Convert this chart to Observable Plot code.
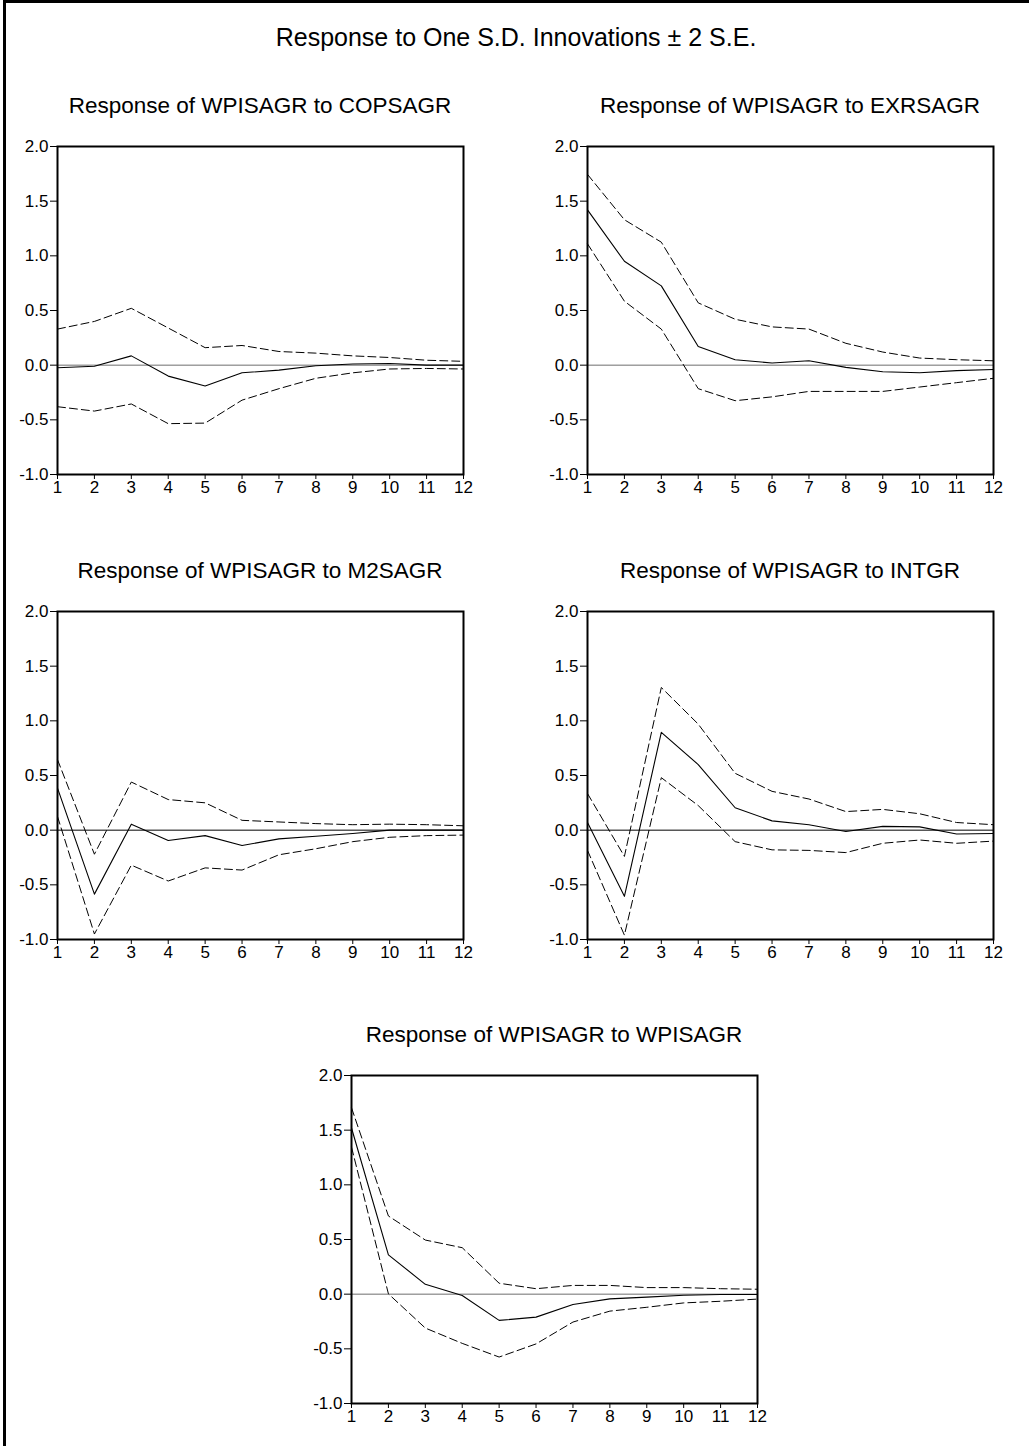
<!DOCTYPE html>
<html>
<head>
<meta charset="utf-8">
<script src="https://cdn.jsdelivr.net/npm/d3@7"></script>
<script src="https://cdn.jsdelivr.net/npm/@observablehq/plot@0.6"></script>
<style>
  html, body { margin: 0; padding: 0; background: white; }
  #page { position: relative; width: 1029px; height: 1446px; background: white; overflow: hidden;
          font-family: "Liberation Sans", Arial, sans-serif; color: black; }
  #border { position: absolute; left: 3px; top: 0; width: 1026px; height: 1446px; box-sizing: border-box;
            border-top: 3px solid black; border-left: 3px solid black; z-index: 10; pointer-events: none; }
  .title { position: absolute; white-space: nowrap; transform: translateX(-50%); line-height: 1; }
  .main { font-size: 25px; }
  .sub { font-size: 22.5px; }
  .panel { position: absolute; }
  svg text { font-family: "Liberation Sans", Arial, sans-serif !important; }
</style>
</head>
<body>
<div id="page">
  <div id="border"></div>
</div>
<script>
// ---- data ----
const periods = [1, 2, 3, 4, 5, 6, 7, 8, 9, 10, 11, 12];
const yTicks = [-1.0, -0.5, 0.0, 0.5, 1.0, 1.5, 2.0];
const mainTitle = "Response to One S.D. Innovations \u00B1 2 S.E.";

const copsagrResp  = [-0.024, -0.01, 0.085, -0.10, -0.19, -0.07, -0.045, -0.005, 0.01, 0.015, 0.0, 0.0];
const copsagrUpper = [0.33, 0.40, 0.52, 0.34, 0.16, 0.18, 0.125, 0.11, 0.085, 0.07, 0.045, 0.035];
const copsagrLower = [-0.38, -0.42, -0.355, -0.535, -0.53, -0.32, -0.215, -0.12, -0.07, -0.035, -0.03, -0.035];

const exrsagrResp  = [1.42, 0.95, 0.725, 0.17, 0.05, 0.02, 0.04, -0.02, -0.06, -0.07, -0.05, -0.04];
const exrsagrUpper = [1.745, 1.33, 1.125, 0.57, 0.42, 0.35, 0.33, 0.20, 0.12, 0.065, 0.05, 0.04];
const exrsagrLower = [1.11, 0.585, 0.33, -0.215, -0.325, -0.29, -0.24, -0.24, -0.24, -0.20, -0.16, -0.12];

const m2sagrResp  = [0.385, -0.585, 0.055, -0.095, -0.05, -0.14, -0.08, -0.055, -0.03, 0.0, 0.0, 0.0];
const m2sagrUpper = [0.645, -0.22, 0.44, 0.28, 0.25, 0.09, 0.075, 0.06, 0.05, 0.055, 0.05, 0.04];
const m2sagrLower = [0.125, -0.95, -0.32, -0.465, -0.345, -0.365, -0.225, -0.17, -0.105, -0.065, -0.05, -0.045];

const intgrResp  = [0.07, -0.605, 0.895, 0.60, 0.205, 0.085, 0.05, -0.012, 0.035, 0.03, -0.035, -0.03];
const intgrUpper = [0.335, -0.24, 1.305, 0.97, 0.52, 0.355, 0.285, 0.17, 0.19, 0.15, 0.07, 0.05];
const intgrLower = [-0.185, -0.96, 0.48, 0.225, -0.105, -0.18, -0.185, -0.205, -0.12, -0.09, -0.12, -0.10];

const wpisagrResp  = [1.52, 0.36, 0.09, -0.012, -0.24, -0.21, -0.095, -0.043, -0.027, -0.01, -0.003, -0.003];
const wpisagrUpper = [1.705, 0.715, 0.495, 0.425, 0.10, 0.05, 0.08, 0.08, 0.06, 0.06, 0.05, 0.045];
const wpisagrLower = [1.345, 0.003, -0.31, -0.45, -0.575, -0.455, -0.255, -0.155, -0.12, -0.08, -0.065, -0.045];

const panelTitles = [
  "Response of WPISAGR to COPSAGR",
  "Response of WPISAGR to EXRSAGR",
  "Response of WPISAGR to M2SAGR",
  "Response of WPISAGR to INTGR",
  "Response of WPISAGR to WPISAGR"
];

// ---- layout ----
const page = document.getElementById("page");
const W = 470, H = 378, ML = 57, MR = 7, MT = 20, MB = 30;
const FONT = "Liberation Sans, Arial, sans-serif";

function addTitle(text, cls, cx, top) {
  const d = document.createElement("div");
  d.className = "title " + cls;
  d.textContent = text;
  d.style.left = cx + "px";
  d.style.top = top + "px";
  page.appendChild(d);
}

addTitle(mainTitle, "main", 516, 25);

const panels = [
  {title: panelTitles[0], resp: copsagrResp, upper: copsagrUpper, lower: copsagrLower, left: 0,   top: 126,  zero: "#6e6e6e"},
  {title: panelTitles[1], resp: exrsagrResp, upper: exrsagrUpper, lower: exrsagrLower, left: 530, top: 126,  zero: "#6e6e6e"},
  {title: panelTitles[2], resp: m2sagrResp,  upper: m2sagrUpper,  lower: m2sagrLower,  left: 0,   top: 591,  zero: "#000000"},
  {title: panelTitles[3], resp: intgrResp,   upper: intgrUpper,   lower: intgrLower,   left: 530, top: 591,  zero: "#000000"},
  {title: panelTitles[4], resp: wpisagrResp, upper: wpisagrUpper, lower: wpisagrLower, left: 294, top: 1055, zero: "#6e6e6e"}
];

for (const p of panels) {
  const rows = periods.map((t, i) => ({period: t, resp: p.resp[i], upper: p.upper[i], lower: p.lower[i]}));
  const chart = Plot.plot({
    width: W, height: H,
    marginLeft: ML, marginRight: MR, marginTop: MT, marginBottom: MB,
    style: {fontFamily: FONT, fontSize: "17px", color: "black", background: "transparent", overflow: "visible"},
    x: {domain: [1, 12], label: null},
    y: {domain: [-1, 2], label: null},
    marks: [
      Plot.ruleY([0], {stroke: p.zero, strokeWidth: 1}),
      Plot.line(rows, {x: "period", y: "upper", stroke: "black", strokeWidth: 1, strokeDasharray: "8,4"}),
      Plot.line(rows, {x: "period", y: "lower", stroke: "black", strokeWidth: 1, strokeDasharray: "8,4"}),
      Plot.line(rows, {x: "period", y: "resp", stroke: "black", strokeWidth: 1.1}),
      Plot.frame({stroke: "black", strokeWidth: 2}),
      Plot.axisX({ticks: periods, tickFormat: d => String(d), tickSize: 5, tickPadding: 1, stroke: "black", label: null, fill: "black", fontSize: 17, fontFamily: FONT}),
      Plot.axisY({ticks: yTicks, tickFormat: d => d.toFixed(1), tickSize: 7, tickPadding: 2, stroke: "black", label: null, fill: "black", fontSize: 17, fontFamily: FONT})
    ]
  });
  chart.classList.add("panel");
  chart.style.left = p.left + "px";
  chart.style.top = p.top + "px";
  chart.style.maxWidth = "none";
  chart.style.fontFamily = FONT;
  page.appendChild(chart);
  addTitle(p.title, "sub", p.left + ML + (W - ML - MR) / 2, p.top + MT - 32 - 18.6);
}
</script>
</body>
</html>
